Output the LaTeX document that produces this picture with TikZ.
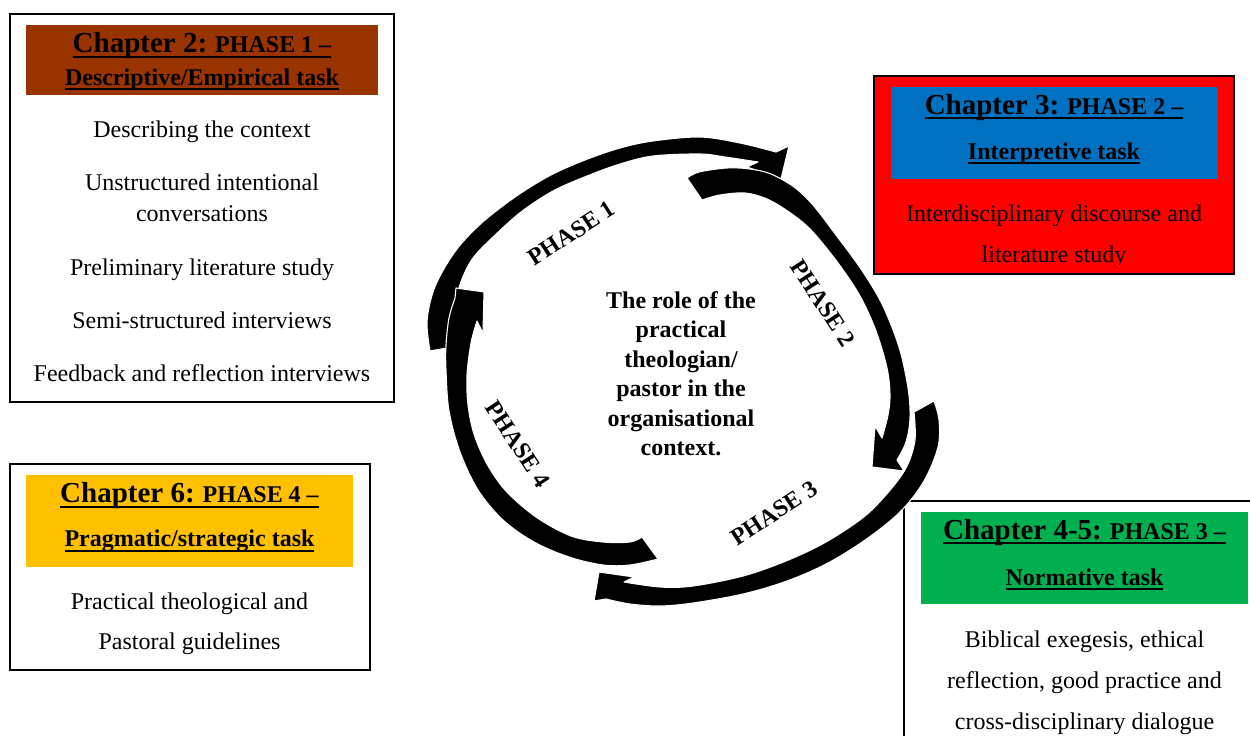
\documentclass[tikz,border=0pt]{standalone}
\usepackage{fontspec}
\setmainfont{Liberation Serif}
\newcommand\chapsize[1]{{\fontsize{29}{32}\selectfont #1}}
\newcommand\ulnode[1]{\draw[underpen] ([yshift=-4pt]#1.base west) -- ([yshift=-4pt]#1.base east);}
\definecolor{hdbrown}{HTML}{993300}
\definecolor{hdred}{HTML}{FF0000}
\definecolor{hdblue}{HTML}{0070C0}
\definecolor{hdyellow}{HTML}{FFC000}
\definecolor{hdgreen}{HTML}{00B050}
\tikzset{
  every node/.style={inner sep=0pt, outer sep=0pt},
  bodytext/.style={anchor=base, font=\fontsize{24}{28}\selectfont},
  headtext/.style={anchor=base, font=\bfseries\fontsize{24}{28}\selectfont},
  phaselabel/.style={font=\bfseries\fontsize{24}{28}\selectfont},
  roletext/.style={anchor=base, font=\bfseries\fontsize{24}{28}\selectfont},
  frame/.style={draw=black, line width=2pt},
  ringarrow/.style={fill=black, draw=white, line width=1.1pt, line join=round},
  underpen/.style={line width=2.2pt},
}
\begin{document}
\begin{tikzpicture}[x=1pt, y=-1pt]
\clip (0,0) rectangle (1250,736);

% ---------- Chapter 2 box ----------
\draw[frame, fill=white] (10,14) rectangle (394,402);
\fill[hdbrown] (26,25) rectangle (378,95);
\node[headtext] (h2a) at (202,52.7) {\chapsize{Chapter 2:} PHASE 1 –};
\node[headtext] (h2b) at (202,85) {Descriptive/Empirical task};
\ulnode{h2a}\ulnode{h2b}
\node[bodytext] (a1) at (202,137.3) {Describing the context};
\node[bodytext] (a2) at (202,190.7) {Unstructured intentional};
\node[bodytext] (a3) at (202,221.7) {conversations};
\node[bodytext] (a4) at (202,275) {Preliminary literature study};
\node[bodytext] (a5) at (202,328.3) {Semi-structured interviews};
\node[bodytext] (a6) at (202,381) {Feedback and reflection interviews};

% ---------- Chapter 3 box ----------
\draw[frame, fill=hdred] (874,76) rectangle (1233.5,274);
\fill[hdblue] (891,87) rectangle (1218,179);
\node[headtext] (h3a) at (1054,114.3) {\chapsize{Chapter 3:} PHASE 2 –};
\node[headtext] (h3b) at (1054,159.3) {Interpretive task};
\ulnode{h3a}\ulnode{h3b}
\begin{scope}
  \clip (875,180) rectangle (1232,264.5);
  \node[bodytext] (b1) at (1054,221.7) {Interdisciplinary discourse and};
  \node[bodytext] (b2) at (1054,262.7) {literature study};
\end{scope}

% ---------- Chapter 6 box ----------
\draw[frame, fill=white] (9.5,463.5) rectangle (369.5,670);
\fill[hdyellow] (26,475) rectangle (353,567);
\node[headtext] (h6a) at (189.5,502.7) {\chapsize{Chapter 6:} PHASE 4 –};
\node[headtext] (h6b) at (189.5,546.7) {Pragmatic/strategic task};
\ulnode{h6a}\ulnode{h6b}
\node[bodytext] (d1) at (189.5,609) {Practical theological and};
\node[bodytext] (d2) at (189.5,649.3) {Pastoral guidelines};

% ---------- Chapter 4-5 box ----------
\draw[frame, fill=white] (904,501) rectangle (1265,760);
\fill[hdgreen] (921,512) rectangle (1248,604);
\node[headtext] (h4a) at (1084.5,539.3) {\chapsize{Chapter 4-5:} PHASE 3 –};
\node[headtext] (h4b) at (1084.5,585) {Normative task};
\ulnode{h4a}\ulnode{h4b}
\node[bodytext] (e1) at (1084.5,647) {Biblical exegesis, ethical};
\node[bodytext] (e2) at (1084.5,688.5) {reflection, good practice and};
\node[bodytext] (e3) at (1084.5,729) {cross-disciplinary dialogue};

% ---------- cycle of curved arrows ----------
% phase 1: left side up and over the top
\filldraw[ringarrow]
  plot[smooth, tension=0.55] coordinates {(430,351) (427,322) (433,292) (445,267) (461,244) (485,220) (518,195) (551,175) (585,160) (620,148) (653,141) (700,137) (740,143) (776,152)}
  -- (789,146) -- (781,179) -- (747,167)
  -- plot[smooth, tension=0.55] coordinates {(758,162) (725,157) (700,154) (653,156) (620,164) (587,176) (553,191) (521,212) (492,238) (473,258) (462,279) (455,303) (452,323) (452,347)}
  -- cycle;
% phase 2: top right down the right side
\filldraw[ringarrow]
  plot[smooth, tension=0.55] coordinates {(687,178) (699,172) (727,168) (750,169) (771,174) (794,187) (813,205) (836,235) (861,269) (882,304) (899,347) (908,388) (910,418) (906,442) (897,460)}
  -- (904,471) -- (872,467) -- (875,426)
  -- plot[smooth, tension=0.55] coordinates {(882,438) (888,415) (890,395) (887,368) (876,331) (860,296) (838,263) (811,230) (789,212) (767,199) (745,193) (720,195) (702,200)}
  -- cycle;
% phase 3: right side round the bottom
\filldraw[ringarrow]
  plot[smooth, tension=0.55] coordinates {(934,401) (939,420) (938,447) (924,481) (901,511) (868,538) (828,563) (787,581) (743,594) (693,603) (660,606) (630,604) (606,599)}
  -- (594,601) -- (599,572) -- (634,577)
  -- plot[smooth, tension=0.55] coordinates {(624,582) (660,587) (693,586) (743,576) (786,561) (826,542) (865,516) (891,489) (907,466) (915,440) (914,412)}
  -- cycle;
% phase 4: bottom up the left side
\filldraw[ringarrow]
  plot[smooth, tension=0.55] coordinates {(658,559) (630,565) (603,565) (569,557) (534,542) (503,520) (478,490) (460,452) (449,411) (446,370) (446,345) (449,318) (455,298)}
  -- (456,288) -- (484,292) -- (483,333)
  -- plot[smooth, tension=0.55] coordinates {(477,321) (471,343) (467,375) (468,405) (474,434) (487,464) (506,491) (536,517) (571,536) (603,542) (630,542) (642,537)}
  -- cycle;

% ---------- phase labels ----------
\node[phaselabel, rotate=33] (p1) at (571.5,233.5) {PHASE 1};
\node[phaselabel, rotate=-57] (p2) at (823,303) {PHASE 2};
\node[phaselabel, rotate=33] (p3) at (774,513) {PHASE 3};
\node[phaselabel, rotate=-57] (p4) at (518,444) {PHASE 4};

% ---------- centre text ----------
\node[roletext] (c1) at (681,308) {The role of the};
\node[roletext] (c2) at (681,337.5) {practical};
\node[roletext] (c3) at (681,367) {theologian/};
\node[roletext] (c4) at (681,396.5) {pastor in the};
\node[roletext] (c5) at (681,426) {organisational};
\node[roletext] (c6) at (681,455.5) {context.};
\end{tikzpicture}
\end{document}
